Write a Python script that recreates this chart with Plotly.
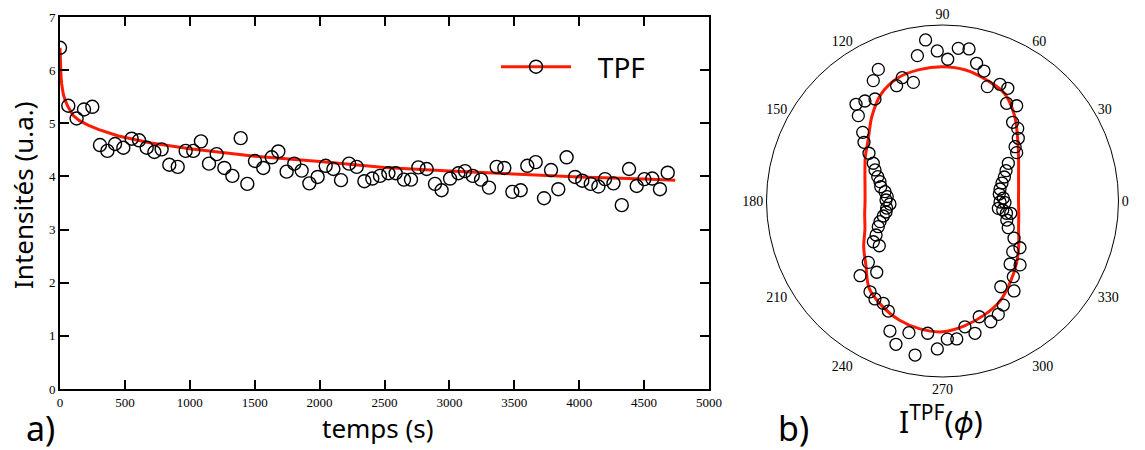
import plotly.graph_objects as go

# ---------------- Panel a) : intensity vs time ----------------
t_data = [0, 64, 128, 185, 249, 308, 365, 424, 488, 552, 609, 668, 727, 783, 842, 907,
          968, 1027, 1086, 1148, 1207, 1266, 1328, 1392, 1443, 1502, 1566, 1631, 1682,
          1746, 1805, 1862, 1921, 1985, 2047, 2106, 2165, 2227, 2286, 2345, 2406, 2465,
          2530, 2586, 2650, 2704, 2761, 2825, 2889, 2940, 3005, 3069, 3120, 3180, 3244,
          3305, 3364, 3423, 3485, 3549, 3600, 3665, 3729, 3783, 3839, 3903, 3968, 4024,
          4089, 4148, 4199, 4264, 4328, 4384, 4443, 4502, 4563, 4622, 4682]
i_data = [6.42, 5.33, 5.09, 5.26, 5.31, 4.59, 4.48, 4.61, 4.54, 4.71, 4.68, 4.54, 4.46,
          4.51, 4.22, 4.18, 4.48, 4.48, 4.66, 4.24, 4.42, 4.16, 4.01, 4.72, 3.86, 4.29,
          4.16, 4.36, 4.47, 4.09, 4.24, 4.11, 3.87, 3.99, 4.20, 4.14, 3.93, 4.24, 4.18,
          3.91, 3.96, 4.01, 4.06, 4.06, 3.94, 3.94, 4.17, 4.14, 3.86, 3.74, 3.96, 4.06,
          4.10, 4.01, 3.94, 3.79, 4.18, 4.16, 3.71, 3.74, 4.20, 4.27, 3.59, 4.12, 3.76,
          4.36, 3.99, 3.92, 3.86, 3.81, 3.95, 3.87, 3.46, 4.14, 3.82, 3.95, 3.96, 3.76,
          4.07]

t_fit = [0, 3, 8, 13, 25, 40, 60, 100, 150, 220, 300, 450, 700, 1000, 1500, 2000,
         2500, 3000, 3500, 4000, 4500, 4740]
i_fit = [6.42, 6.10, 5.88, 5.74, 5.55, 5.43, 5.32, 5.15, 5.05, 4.96, 4.88, 4.76, 4.63,
         4.52, 4.38, 4.28, 4.17, 4.10, 4.04, 3.99, 3.95, 3.93]

x_ticks = [0, 500, 1000, 1500, 2000, 2500, 3000, 3500, 4000, 4500, 5000]
y_ticks = [0, 1, 2, 3, 4, 5, 6, 7]

# ---------------- Panel b) : polar TPF ----------------
phi_data = [2.8, 7.0, 11.8, 16.8, 21.2, 25.5, 29.8, 33.1, 36.8, 39.6, 44.0, 48.3, 52.1,
            56.7, 59.9, 63.8, 68.6, 72.3, 76.1, 80.1, 84.1, 87.9, 92.0, 96.0, 99.8, 103.8,
            108.1, 111.7, 116.0, 119.9, 123.5, 127.8, 131.8, 134.6, 139.3, 143.2, 147.0,
            151.4, 155.3, 159.4, 162.8, 167.0, 170.8, 175.5, 179.0, 183.3, 187.2, 191.0,
            194.2, 198.3, 201.8, 207.1, 210.5, 215.3, 219.6, 222.2, 227.3, 231.4, 235.4,
            239.9, 243.8, 248.0, 252.0, 255.7, 259.9, 263.6, 268.0, 272.0, 275.9, 280.1,
            283.8, 287.6, 291.8, 296.2, 300.3, 304.2, 308.5, 313.1, 317.0, 320.5, 324.2,
            328.9, 332.5, 337.9, 343.5, 349.1, 349.8, 351.5, 352.5, 358.6, 359.0]
r_data = [0.346, 0.325, 0.334, 0.353, 0.377, 0.400, 0.431, 0.503, 0.515, 0.559, 0.594,
          0.599, 0.686, 0.664, 0.740, 0.739, 0.698, 0.775, 0.806, 0.877, 0.872, 0.806,
          0.853, 0.920, 0.838, 0.694, 0.737, 0.705, 0.832, 0.789, 0.695, 0.719, 0.737,
          0.681, 0.598, 0.557, 0.498, 0.448, 0.422, 0.393, 0.372, 0.360, 0.331, 0.315,
          0.321, 0.299, 0.320, 0.327, 0.347, 0.374, 0.393, 0.424, 0.456, 0.440, 0.547,
          0.632, 0.551, 0.660, 0.676, 0.672, 0.697, 0.797, 0.856, 0.772, 0.889, 0.756,
          0.841, 0.785, 0.788, 0.726, 0.774, 0.690, 0.739, 0.718, 0.685, 0.589, 0.653,
          0.589, 0.525, 0.571, 0.492, 0.514, 0.458, 0.403, 0.381, 0.370, 0.394, 0.346,
          0.320, 0.355, 0.327]

phi_fit = [0, 10, 20, 30, 40, 50, 60, 70, 80, 90, 100, 110, 120, 130, 140, 150, 160, 170,
           180, 190, 200, 210, 220, 230, 240, 250, 260, 270, 280, 290, 300, 310, 320, 330,
           340, 350, 360]
r_fit = [0.432, 0.439, 0.460, 0.499, 0.557, 0.636, 0.705, 0.732, 0.756, 0.763, 0.758,
         0.744, 0.700, 0.625, 0.550, 0.506, 0.469, 0.447, 0.440, 0.449, 0.469, 0.517,
         0.568, 0.648, 0.688, 0.720, 0.738, 0.743, 0.720, 0.690, 0.655, 0.600, 0.549,
         0.500, 0.460, 0.440, 0.432]

ang_ticks = [0, 30, 60, 90, 120, 150, 180, 210, 240, 270, 300, 330]

TITLE_FONT = "Comic Sans MS, Noto Sans, sans-serif"
TICK_FONT = "Liberation Serif, Times New Roman, serif"
RED = "#ff1a00"

fig = go.Figure()

fig.add_trace(go.Scatter(x=t_fit, y=i_fit, mode="lines",
                         line=dict(color=RED, width=3), showlegend=False))
fig.add_trace(go.Scatter(x=t_data, y=i_data, mode="markers",
                         marker=dict(symbol="circle-open", size=13, color="black",
                                     line=dict(width=1.4, color="black")),
                         showlegend=False))
fig.add_trace(go.Scatter(x=[None], y=[None], mode="lines+markers",
                         name="\u00a0\u00a0\u00a0TPF",
                         line=dict(color=RED, width=3),
                         marker=dict(symbol="circle-open", size=13, color="black",
                                     line=dict(width=1.4, color="black")),
                         showlegend=True))

fig.add_trace(go.Scatterpolar(theta=phi_fit, r=r_fit, mode="lines",
                              line=dict(color=RED, width=3, shape="spline"),
                              showlegend=False, subplot="polar"))
fig.add_trace(go.Scatterpolar(theta=phi_data, r=r_data, mode="markers",
                              marker=dict(symbol="circle-open", size=12, color="black",
                                          line=dict(width=1.3, color="black")),
                              showlegend=False, subplot="polar"))

axis_common = dict(showline=True, linecolor="black", linewidth=2, mirror="ticks",
                   ticks="inside", ticklen=9, tickwidth=1.5, tickcolor="black",
                   showgrid=False, zeroline=False, automargin=False,
                   tickfont=dict(family=TICK_FONT, size=13, color="black"))


def label(text, x, y, size, angle=0):
    return dict(text=text, x=x / 1145, y=(450 - y) / 450, xref="paper", yref="paper",
                xanchor="center", yanchor="middle", showarrow=False, textangle=angle,
                font=dict(family=TITLE_FONT, size=size, color="black"))


fig.update_layout(
    width=1145, height=450,
    margin=dict(l=0, r=0, t=0, b=0, pad=0, autoexpand=False),
    paper_bgcolor="white", plot_bgcolor="white",
    xaxis=dict(domain=[60 / 1145, 709 / 1145], range=[0, 5000],
               tickmode="array", tickvals=x_ticks, **axis_common),
    yaxis=dict(domain=[61 / 450, 433 / 450], range=[0, 7],
               tickmode="array", tickvals=y_ticks, **axis_common),
    polar=dict(
        domain=dict(x=[766.5 / 1145, 1118.5 / 1145], y=[73 / 450, 425 / 450]),
        bgcolor="white",
        radialaxis=dict(visible=False, range=[0, 1], showgrid=False),
        angularaxis=dict(rotation=0, direction="counterclockwise",
                         tickmode="array", tickvals=ang_ticks,
                         ticktext=[str(a) for a in ang_ticks],
                         showgrid=False, showline=True, linecolor="black",
                         linewidth=1, ticks="",
                         tickfont=dict(family=TICK_FONT, size=14, color="black")),
    ),
    legend=dict(x=496 / 1145, y=(450 - 67) / 450, xanchor="left", yanchor="middle",
                bgcolor="rgba(0,0,0,0)", itemwidth=70,
                font=dict(family=TITLE_FONT, size=28, color="black")),
    annotations=[
        label("Intensités (u.a.)", 23, 195, 26, -90),
        label("temps (s)", 378, 428, 26),
        label("a)", 40, 428, 34),
        label("b)", 793, 428, 34),
        label("I<sup>TPF</sup>(<i>ϕ</i>)", 941, 420, 30),
    ],
)

fig.write_html("out.html",
               config={"displayModeBar": False},
               post_script="document.body.style.margin='0';"
                           "document.body.style.overflow='hidden';")
